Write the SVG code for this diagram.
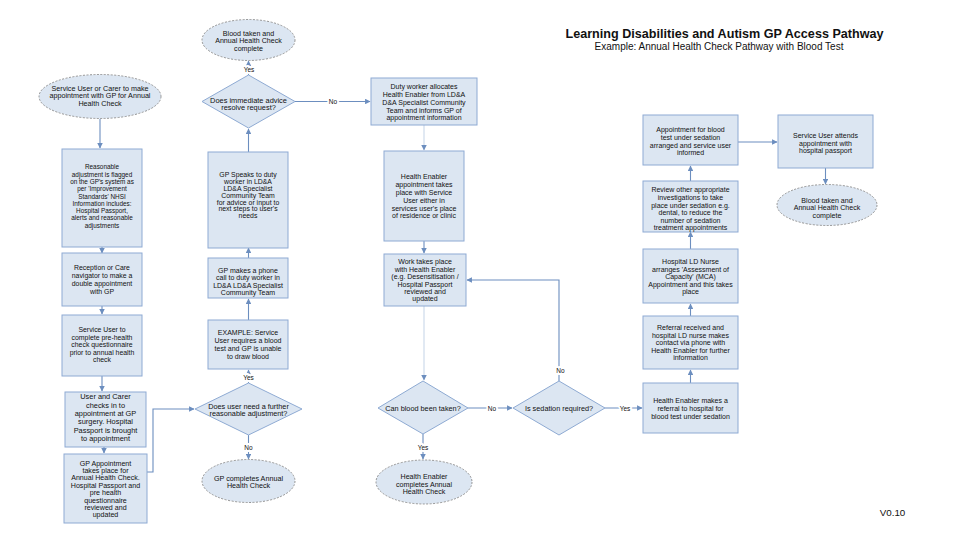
<svg xmlns="http://www.w3.org/2000/svg" width="960" height="540" viewBox="0 0 960 540">
<defs>
<style>
.box{fill:#dce6f2;stroke:#8eaad3;stroke-width:1}
.dia{fill:#dce6f2;stroke:#8eaad3;stroke-width:1}
.term{fill:#dce6f2;stroke:#8a8a8a;stroke-width:0.9;stroke-dasharray:2 1.5}
text{font-family:"Liberation Sans",Arial,sans-serif;fill:#111;text-anchor:middle}
.t{font-size:6.9px}
.lbl{font-size:6.5px;stroke:#fff;stroke-width:4;paint-order:stroke;stroke-linejoin:round}
.c{fill:none;stroke:#6c8ebf;stroke-width:1.1;marker-end:url(#ah)}
.cf{fill:none;stroke:#c3d3e7;stroke-width:1;marker-end:url(#ah)}
</style>
<marker id="ah" viewBox="0 0 10 10" refX="9" refY="5" markerWidth="5.5" markerHeight="5.5" markerUnits="userSpaceOnUse" orient="auto"><path d="M0,0 L10,5 L0,10 z" fill="#6c8ebf"/></marker>
</defs>
<rect width="960" height="540" fill="#fff"/>

<g id="connectors">
<path class="c" d="M100,119 V148"/>
<path class="c" d="M102,247 V253"/>
<path class="c" d="M102,306 V314"/>
<path class="c" d="M102,376 V391"/>
<path class="c" d="M104,447 V453"/>
<path class="c" d="M147,472 H153 V409 H194"/>
<path class="c" d="M248.5,75 V61"/>
<path class="c" d="M295,101.5 H370"/>
<path class="c" d="M248.5,152 V129"/>
<path class="c" d="M248.5,258 V248"/>
<path class="c" d="M248.5,320 V299"/>
<path class="c" d="M248.5,383 V370"/>
<path class="c" d="M248.5,435 V459"/>
<path class="cf" d="M424,125 V150"/>
<path class="c" d="M424,241 V253"/>
<path class="cf" d="M424,306 V380"/>
<path class="c" d="M468,408 H512"/>
<path class="c" d="M559,381 V280 H467"/>
<path class="c" d="M605,408 H642"/>
<path class="c" d="M423,434 V459"/>
<path class="c" d="M690.5,383 V370"/>
<path class="c" d="M690.5,316 V304"/>
<path class="c" d="M690.5,249 V232"/>
<path class="c" d="M690.5,181 V166"/>
<path class="c" d="M738,142 H777"/>
<path class="c" d="M825.5,168 V184"/>
</g>

<g id="labels">
<text class="lbl" x="249" y="72">Yes</text>
<text class="lbl" x="333" y="104">No</text>
<text class="lbl" x="248.5" y="380">Yes</text>
<text class="lbl" x="248.5" y="449.5">No</text>
<text class="lbl" x="492" y="410.5">No</text>
<text class="lbl" x="560.5" y="372.5">No</text>
<text class="lbl" x="625" y="410.5">Yes</text>
<text class="lbl" x="423" y="449.5">Yes</text>
</g>

<g id="title">
<text x="724.5" y="38" style="font-size:12.6px;font-weight:bold">Learning Disabilities and Autism GP Access Pathway</text>
<text x="719" y="50" style="font-size:10px">Example: Annual Health Check Pathway with Blood Test</text>
<text x="892.5" y="516" style="font-size:9.8px">V0.10</text>
</g>

<g id="n-start">
<ellipse class="term" cx="100" cy="96.5" rx="61" ry="22"/>
<text class="t" style="font-size:7.2px"><tspan x="100" y="90.5">Service User or Carer to make</tspan><tspan x="100" y="98.3">appointment with GP for Annual</tspan><tspan x="100" y="106">Health Check</tspan></text>
</g>

<g id="n-flag">
<rect class="box" x="62" y="149" width="80" height="98"/>
<text class="t" style="font-size:6.4px"><tspan x="102" y="169.3">Reasonable</tspan><tspan x="102" y="176.6">adjustment is flagged</tspan><tspan x="102" y="183.9">on the GP's system as</tspan><tspan x="102" y="191.2">per 'Improvement</tspan><tspan x="102" y="198.5">Standards' NHSI</tspan><tspan x="102" y="205.8">Information includes:</tspan><tspan x="102" y="213.1">Hospital Passport,</tspan><tspan x="102" y="220.4">alerts and reasonable</tspan><tspan x="102" y="227.7">adjustments</tspan></text>
</g>

<g id="n-reception">
<rect class="box" x="62" y="253" width="80" height="53"/>
<text class="t"><tspan x="102" y="270.3">Reception or Care</tspan><tspan x="102" y="278.3">navigator to make a</tspan><tspan x="102" y="286.3">double appointment</tspan><tspan x="102" y="294.3">with GP</tspan></text>
</g>

<g id="n-questionnaire">
<rect class="box" x="62" y="315" width="80" height="61"/>
<text class="t"><tspan x="102" y="332.3">Service User to</tspan><tspan x="102" y="339.8">complete pre-health</tspan><tspan x="102" y="347.3">check questionnaire</tspan><tspan x="102" y="354.8">prior to annual health</tspan><tspan x="102" y="362.3">check</tspan></text>
</g>

<g id="n-checkin">
<rect class="box" x="65" y="392" width="81" height="55"/>
<text class="t" style="font-size:7.4px"><tspan x="105.5" y="399.3">User and Carer</tspan><tspan x="105.5" y="407.6">checks in to</tspan><tspan x="105.5" y="415.9">appointment at GP</tspan><tspan x="105.5" y="424.2">surgery. Hospital</tspan><tspan x="105.5" y="432.5">Passport is brought</tspan><tspan x="105.5" y="440.8">to appointment</tspan></text>
</g>

<g id="n-gpappt">
<rect class="box" x="64" y="454" width="83" height="69"/>
<text class="t" style="font-size:7.1px"><tspan x="105.5" y="465.5">GP Appointment</tspan><tspan x="105.5" y="472.9">takes place for</tspan><tspan x="105.5" y="480.3">Annual Health Check.</tspan><tspan x="105.5" y="487.7">Hospital Passport and</tspan><tspan x="105.5" y="495.1">pre health</tspan><tspan x="105.5" y="502.5">questionnaire</tspan><tspan x="105.5" y="509.9">reviewed and</tspan><tspan x="105.5" y="517.3">updated</tspan></text>
</g>

<g id="n-complete1">
<ellipse class="term" cx="248.5" cy="40" rx="46.5" ry="20.5"/>
<text class="t" style="font-size:7.1px"><tspan x="248.5" y="35.5">Blood taken and</tspan><tspan x="248.5" y="43.2">Annual Health Check</tspan><tspan x="248.5" y="50.9">complete</tspan></text>
</g>

<g id="n-advice">
<polygon class="dia" points="248.5,75 295,101.5 248.5,128 202,101.5"/>
<text class="t" style="font-size:7.4px"><tspan x="248.5" y="102.5">Does immediate advice</tspan><tspan x="248.5" y="109.8">resolve request?</tspan></text>
</g>

<g id="n-speaks">
<rect class="box" x="208" y="152" width="80" height="96"/>
<text class="t" style="font-size:6.9px"><tspan x="248" y="177.3">GP Speaks to duty</tspan><tspan x="248" y="184.1">worker in LD&amp;A</tspan><tspan x="248" y="190.9">LD&amp;A Specialist</tspan><tspan x="248" y="197.7">Community Team</tspan><tspan x="248" y="204.5">for advice or input to</tspan><tspan x="248" y="211.3">next steps to user's</tspan><tspan x="248" y="218.1">needs</tspan></text>
</g>

<g id="n-phone">
<rect class="box" x="208" y="258" width="80" height="40"/>
<text class="t" style="font-size:7px"><tspan x="248" y="273">GP makes a phone</tspan><tspan x="248" y="280.3">call to duty worker in</tspan><tspan x="248" y="287.6">LD&amp;A LD&amp;A Specialist</tspan><tspan x="248" y="294.9">Community Team</tspan></text>
</g>

<g id="n-example">
<rect class="box" x="208" y="320" width="80" height="49"/>
<text class="t" style="font-size:7px"><tspan x="248" y="335.3">EXAMPLE: Service</tspan><tspan x="248" y="343.3">User requires a blood</tspan><tspan x="248" y="351.3">test and GP is unable</tspan><tspan x="248" y="359.3">to draw blood</tspan></text>
</g>

<g id="n-further">
<polygon class="dia" points="248.5,383 302,409 248.5,435 195,409"/>
<text class="t" style="font-size:7.3px"><tspan x="248.5" y="408.5">Does user need a further</tspan><tspan x="248.5" y="415.8">reasonable adjustment?</tspan></text>
</g>

<g id="n-gpcomplete">
<ellipse class="term" cx="248.5" cy="481" rx="46.5" ry="21.5"/>
<text class="t" style="font-size:7.2px"><tspan x="248.5" y="480.5">GP completes Annual</tspan><tspan x="248.5" y="488.3">Health Check</tspan></text>
</g>

<g id="n-duty">
<rect class="box" x="371" y="78" width="106" height="47"/>
<text class="t" style="font-size:7px"><tspan x="424" y="89.3">Duty worker allocates</tspan><tspan x="424" y="97">Health Enabler from LD&amp;A</tspan><tspan x="424" y="104.8">D&amp;A Specialist Community</tspan><tspan x="424" y="112.5">Team and informs GP of</tspan><tspan x="424" y="120.3">appointment information</tspan></text>
</g>

<g id="n-heappt">
<rect class="box" x="384" y="151" width="80" height="90"/>
<text class="t" style="font-size:7px"><tspan x="424" y="179.3">Health Enabler</tspan><tspan x="424" y="187.1">appointment takes</tspan><tspan x="424" y="194.9">place with Service</tspan><tspan x="424" y="202.7">User either in</tspan><tspan x="424" y="210.5">services user's place</tspan><tspan x="424" y="218.3">of residence or clinic</tspan></text>
</g>

<g id="n-work">
<rect class="box" x="384" y="254" width="82" height="52"/>
<text class="t" style="font-size:7px"><tspan x="425" y="264.3">Work takes place</tspan><tspan x="425" y="271.7">with Health Enabler</tspan><tspan x="425" y="279.1">(e.g. Desensitisation /</tspan><tspan x="425" y="286.5">Hospital Passport</tspan><tspan x="425" y="293.9">reviewed and</tspan><tspan x="425" y="301.3">updated</tspan></text>
</g>

<g id="n-canblood">
<polygon class="dia" points="423,381 468,408 423,434 378,408"/>
<text class="t" style="font-size:7.3px" x="423" y="410.5">Can blood been taken?</text>
</g>

<g id="n-sedation">
<polygon class="dia" points="559,381 605,408 559,435 513,408"/>
<text class="t" style="font-size:7.3px" x="559" y="410.5">Is sedation required?</text>
</g>

<g id="n-hecomplete">
<ellipse class="term" cx="424" cy="482" rx="48" ry="22"/>
<text class="t" style="font-size:7.1px"><tspan x="424" y="479.3">Health Enabler</tspan><tspan x="424" y="486.8">completes Annual</tspan><tspan x="424" y="494.3">Health Check</tspan></text>
</g>

<g id="n-referral">
<rect class="box" x="643" y="383" width="95" height="50"/>
<text class="t" style="font-size:7px"><tspan x="690.5" y="403.3">Health Enabler makes a</tspan><tspan x="690.5" y="411.3">referral to hospital for</tspan><tspan x="690.5" y="419.3">blood test under sedation</tspan></text>
</g>

<g id="n-received">
<rect class="box" x="643" y="316" width="95" height="53"/>
<text class="t" style="font-size:7px"><tspan x="690.5" y="330.3">Referral received and</tspan><tspan x="690.5" y="337.8">hospital LD nurse makes</tspan><tspan x="690.5" y="345.3">contact via phone with</tspan><tspan x="690.5" y="352.8">Health Enabler for further</tspan><tspan x="690.5" y="360.3">information</tspan></text>
</g>

<g id="n-capacity">
<rect class="box" x="643" y="249" width="95" height="54"/>
<text class="t" style="font-size:7px"><tspan x="690.5" y="264.3">Hospital LD Nurse</tspan><tspan x="690.5" y="271.8">arranges 'Assessment of</tspan><tspan x="690.5" y="279.3">Capacity' (MCA)</tspan><tspan x="690.5" y="286.8">Appointment and this takes</tspan><tspan x="690.5" y="294.3">place</tspan></text>
</g>

<g id="n-review">
<rect class="box" x="643" y="181" width="95" height="51"/>
<text class="t" style="font-size:7px"><tspan x="690.5" y="192.3">Review other appropriate</tspan><tspan x="690.5" y="199.9">investigations to take</tspan><tspan x="690.5" y="207.5">place under sedation e.g.</tspan><tspan x="690.5" y="215.1">dental, to reduce the</tspan><tspan x="690.5" y="222.7">number of sedation</tspan><tspan x="690.5" y="230.3">treatment appointments</tspan></text>
</g>

<g id="n-apptsed">
<rect class="box" x="643" y="115" width="95" height="50"/>
<text class="t" style="font-size:7px"><tspan x="690.5" y="132.3">Appointment for blood</tspan><tspan x="690.5" y="140">test under sedation</tspan><tspan x="690.5" y="147.7">arranged and service user</tspan><tspan x="690.5" y="155.4">informed</tspan></text>
</g>

<g id="n-attends">
<rect class="box" x="778" y="115" width="95" height="53"/>
<text class="t" style="font-size:7px"><tspan x="825.5" y="138.3">Service User attends</tspan><tspan x="825.5" y="145.8">appointment with</tspan><tspan x="825.5" y="153.3">hospital passport</tspan></text>
</g>

<g id="n-complete2">
<ellipse class="term" cx="827" cy="205" rx="50" ry="20.5"/>
<text class="t" style="font-size:7.1px"><tspan x="827" y="202.8">Blood taken and</tspan><tspan x="827" y="210.3">Annual Health Check</tspan><tspan x="827" y="217.8">complete</tspan></text>
</g>
</svg>
